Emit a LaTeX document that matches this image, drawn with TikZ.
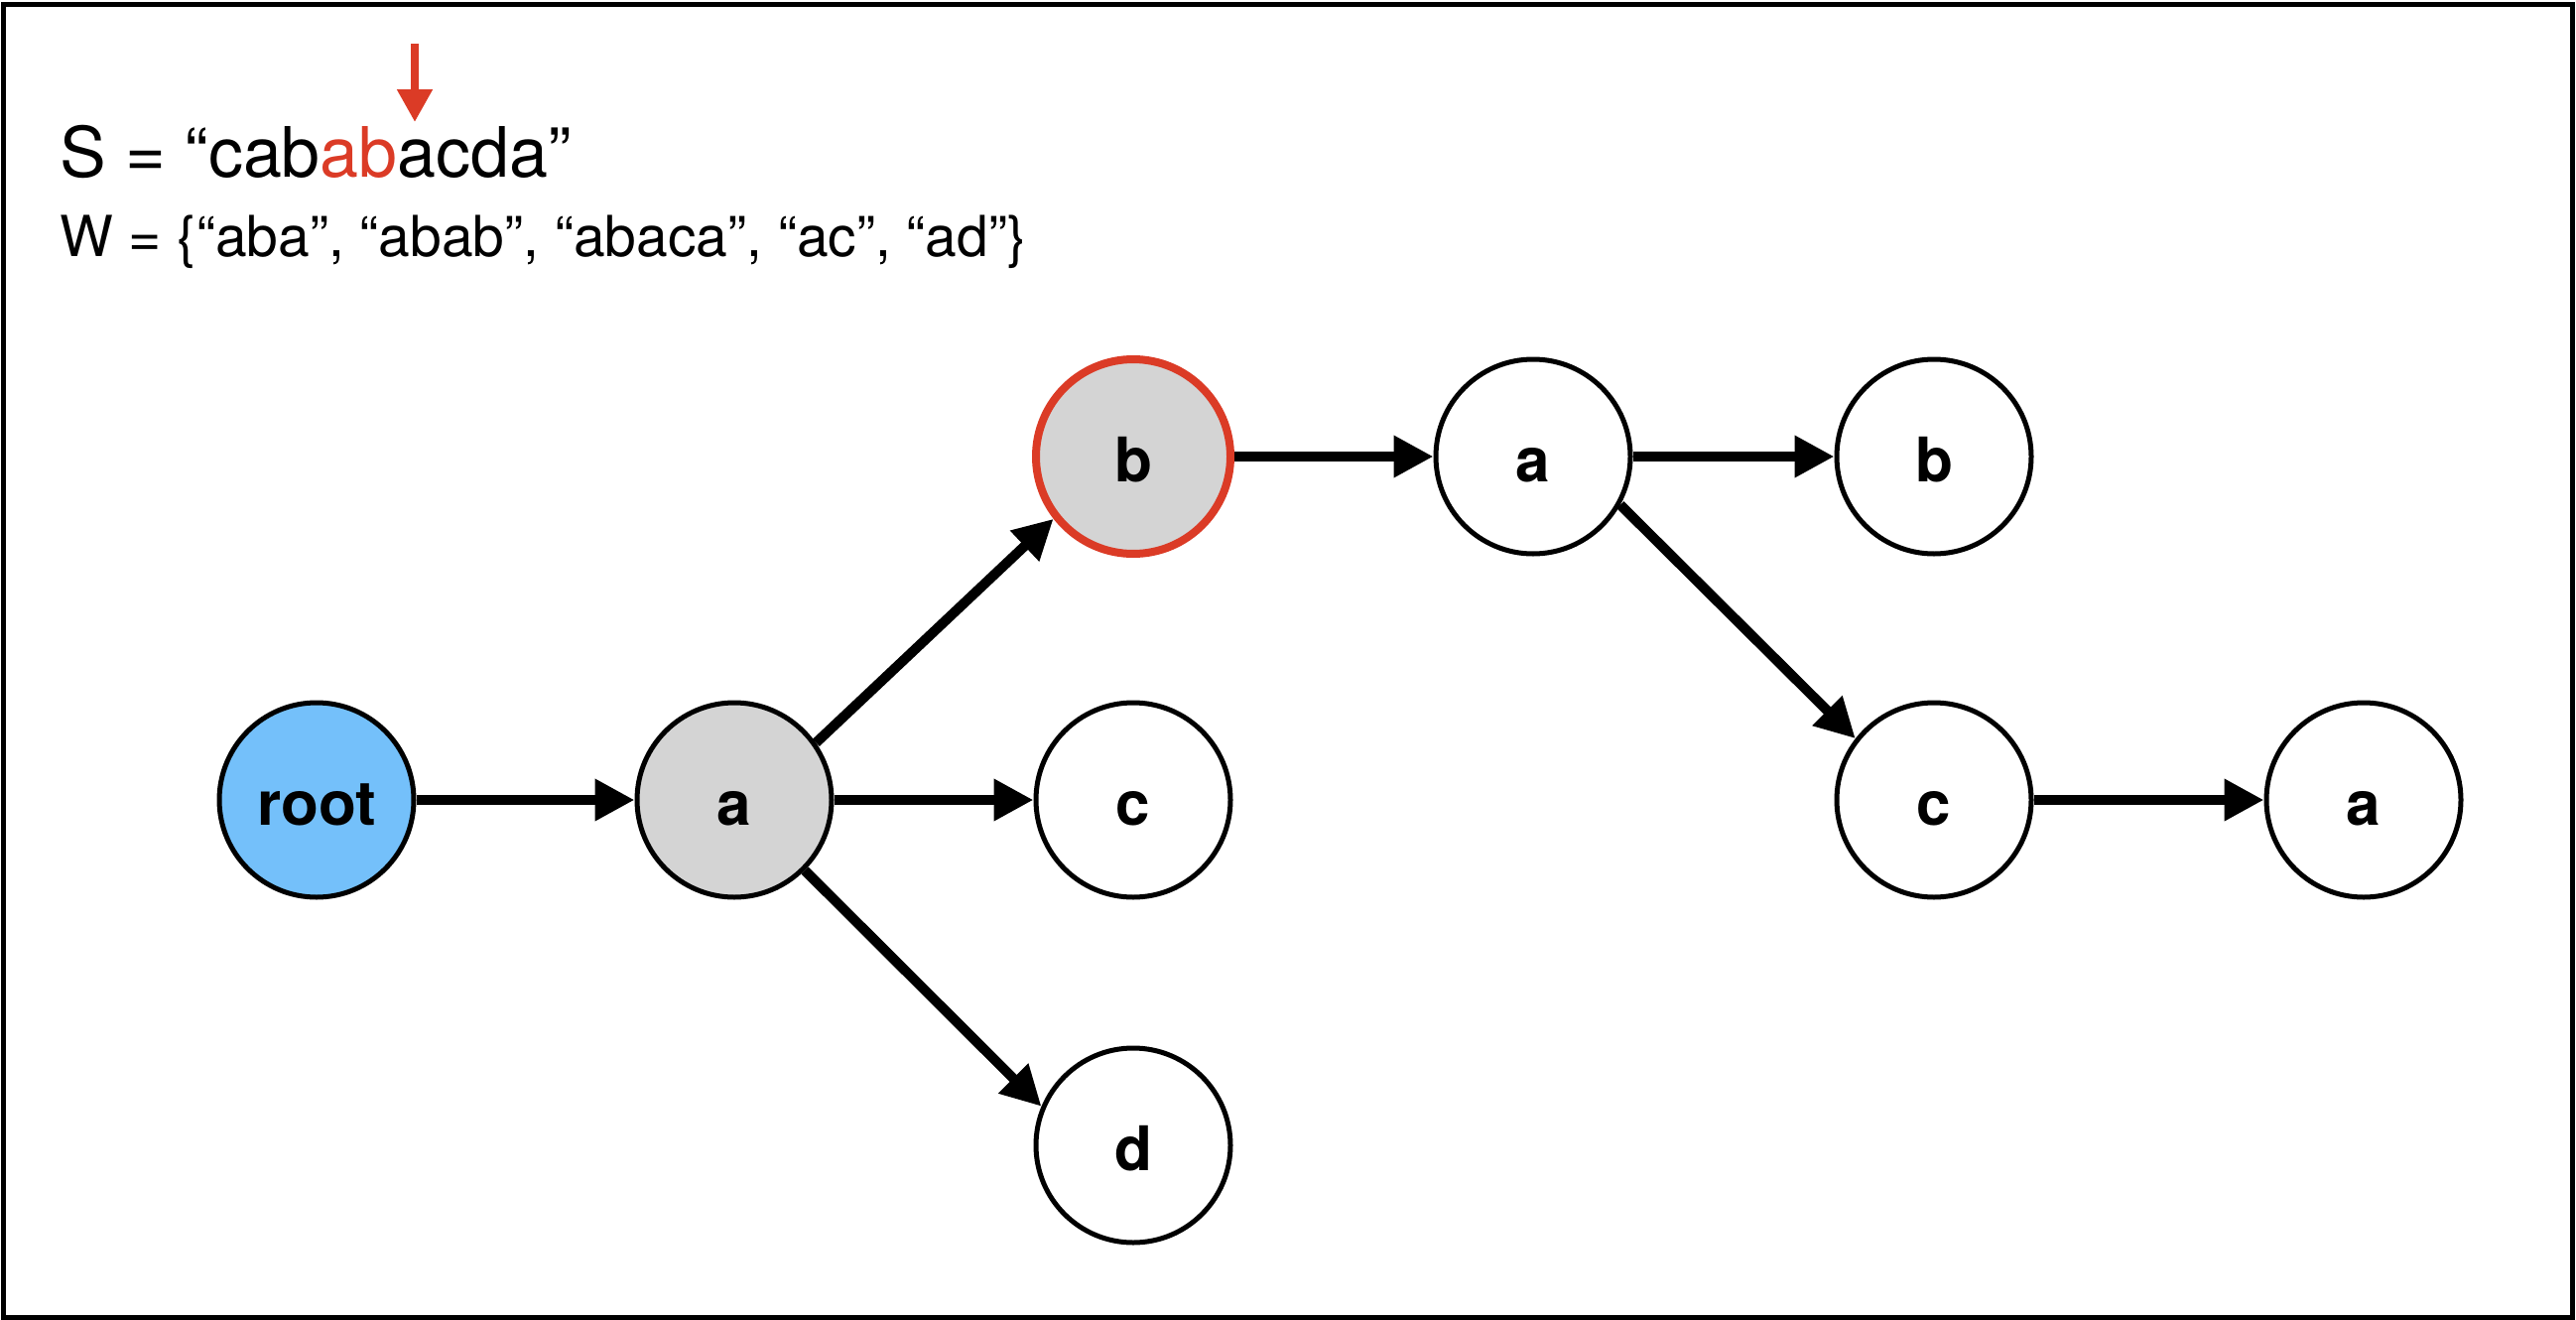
\documentclass[tikz,border=0pt]{standalone}
\usepackage{fontspec}
\setmainfont{TeX Gyre Heros}
\usetikzlibrary{arrows.meta}
\definecolor{myred}{RGB}{219,59,38}
\definecolor{myblue}{RGB}{116,192,250}
\definecolor{mygray}{RGB}{212,212,212}
\tikzset{
  trienode/.style={circle, draw=black, line width=5pt, minimum size=196pt, inner sep=0pt,
    fill=white, text height=50pt, text depth=0pt,
    font=\fontsize{62}{62}\selectfont\bfseries},
  edgearrow/.style={line width=10pt, -{Triangle[length=40pt,width=40pt]}},
}
\begin{document}
\begin{tikzpicture}[x=1pt,y=-1pt]
\useasboundingbox (0,0) rectangle (2596,1330);
\draw[line width=5pt] (3.5,5) rectangle (2592.5,1327);

\node[anchor=base west, inner sep=0pt, font=\fontsize{70}{70}\selectfont] (S) at (60,178)
  {S = “cab\textcolor{myred}{ab}acda”};
\node[anchor=base west, inner sep=0pt, font=\fontsize{57}{57}\selectfont] (W) at (60,258)
  {W = \{“aba”, “abab”, “abaca”, “ac”, “ad”\}};

\coordinate (ptop) at (418,44);
\coordinate (pbot) at (418,123);
\draw[myred, line width=8pt, -{Triangle[length=33pt,width=34pt]}] (ptop) -- (pbot);

\node[trienode, fill=myblue] (root) at (319,806) {root};
\node[trienode, fill=mygray] (a1) at (740,806) {a};
\node[trienode, fill=mygray, draw=myred, line width=8pt] (b1) at (1142,460) {b};
\node[trienode] (c1) at (1142,806) {c};
\node[trienode] (d1) at (1142,1154) {d};
\node[trienode] (a2) at (1545,460) {a};
\node[trienode] (b2) at (1949,460) {b};
\node[trienode] (c2) at (1949,806) {c};
\node[trienode] (a3) at (2382,806) {a};

\draw[edgearrow] (root) -- (a1);
\draw[edgearrow] (a1) -- (c1);
\draw[edgearrow] (a1.35) -- (b1.-142);
\draw[edgearrow] (a1.-45) -- (d1.157);
\draw[edgearrow] (b1) -- (a2);
\draw[edgearrow] (a2) -- (b2);
\draw[edgearrow] (a2.-29) -- (c2.142);
\draw[edgearrow] (c2) -- (a3);
\end{tikzpicture}
\end{document}
